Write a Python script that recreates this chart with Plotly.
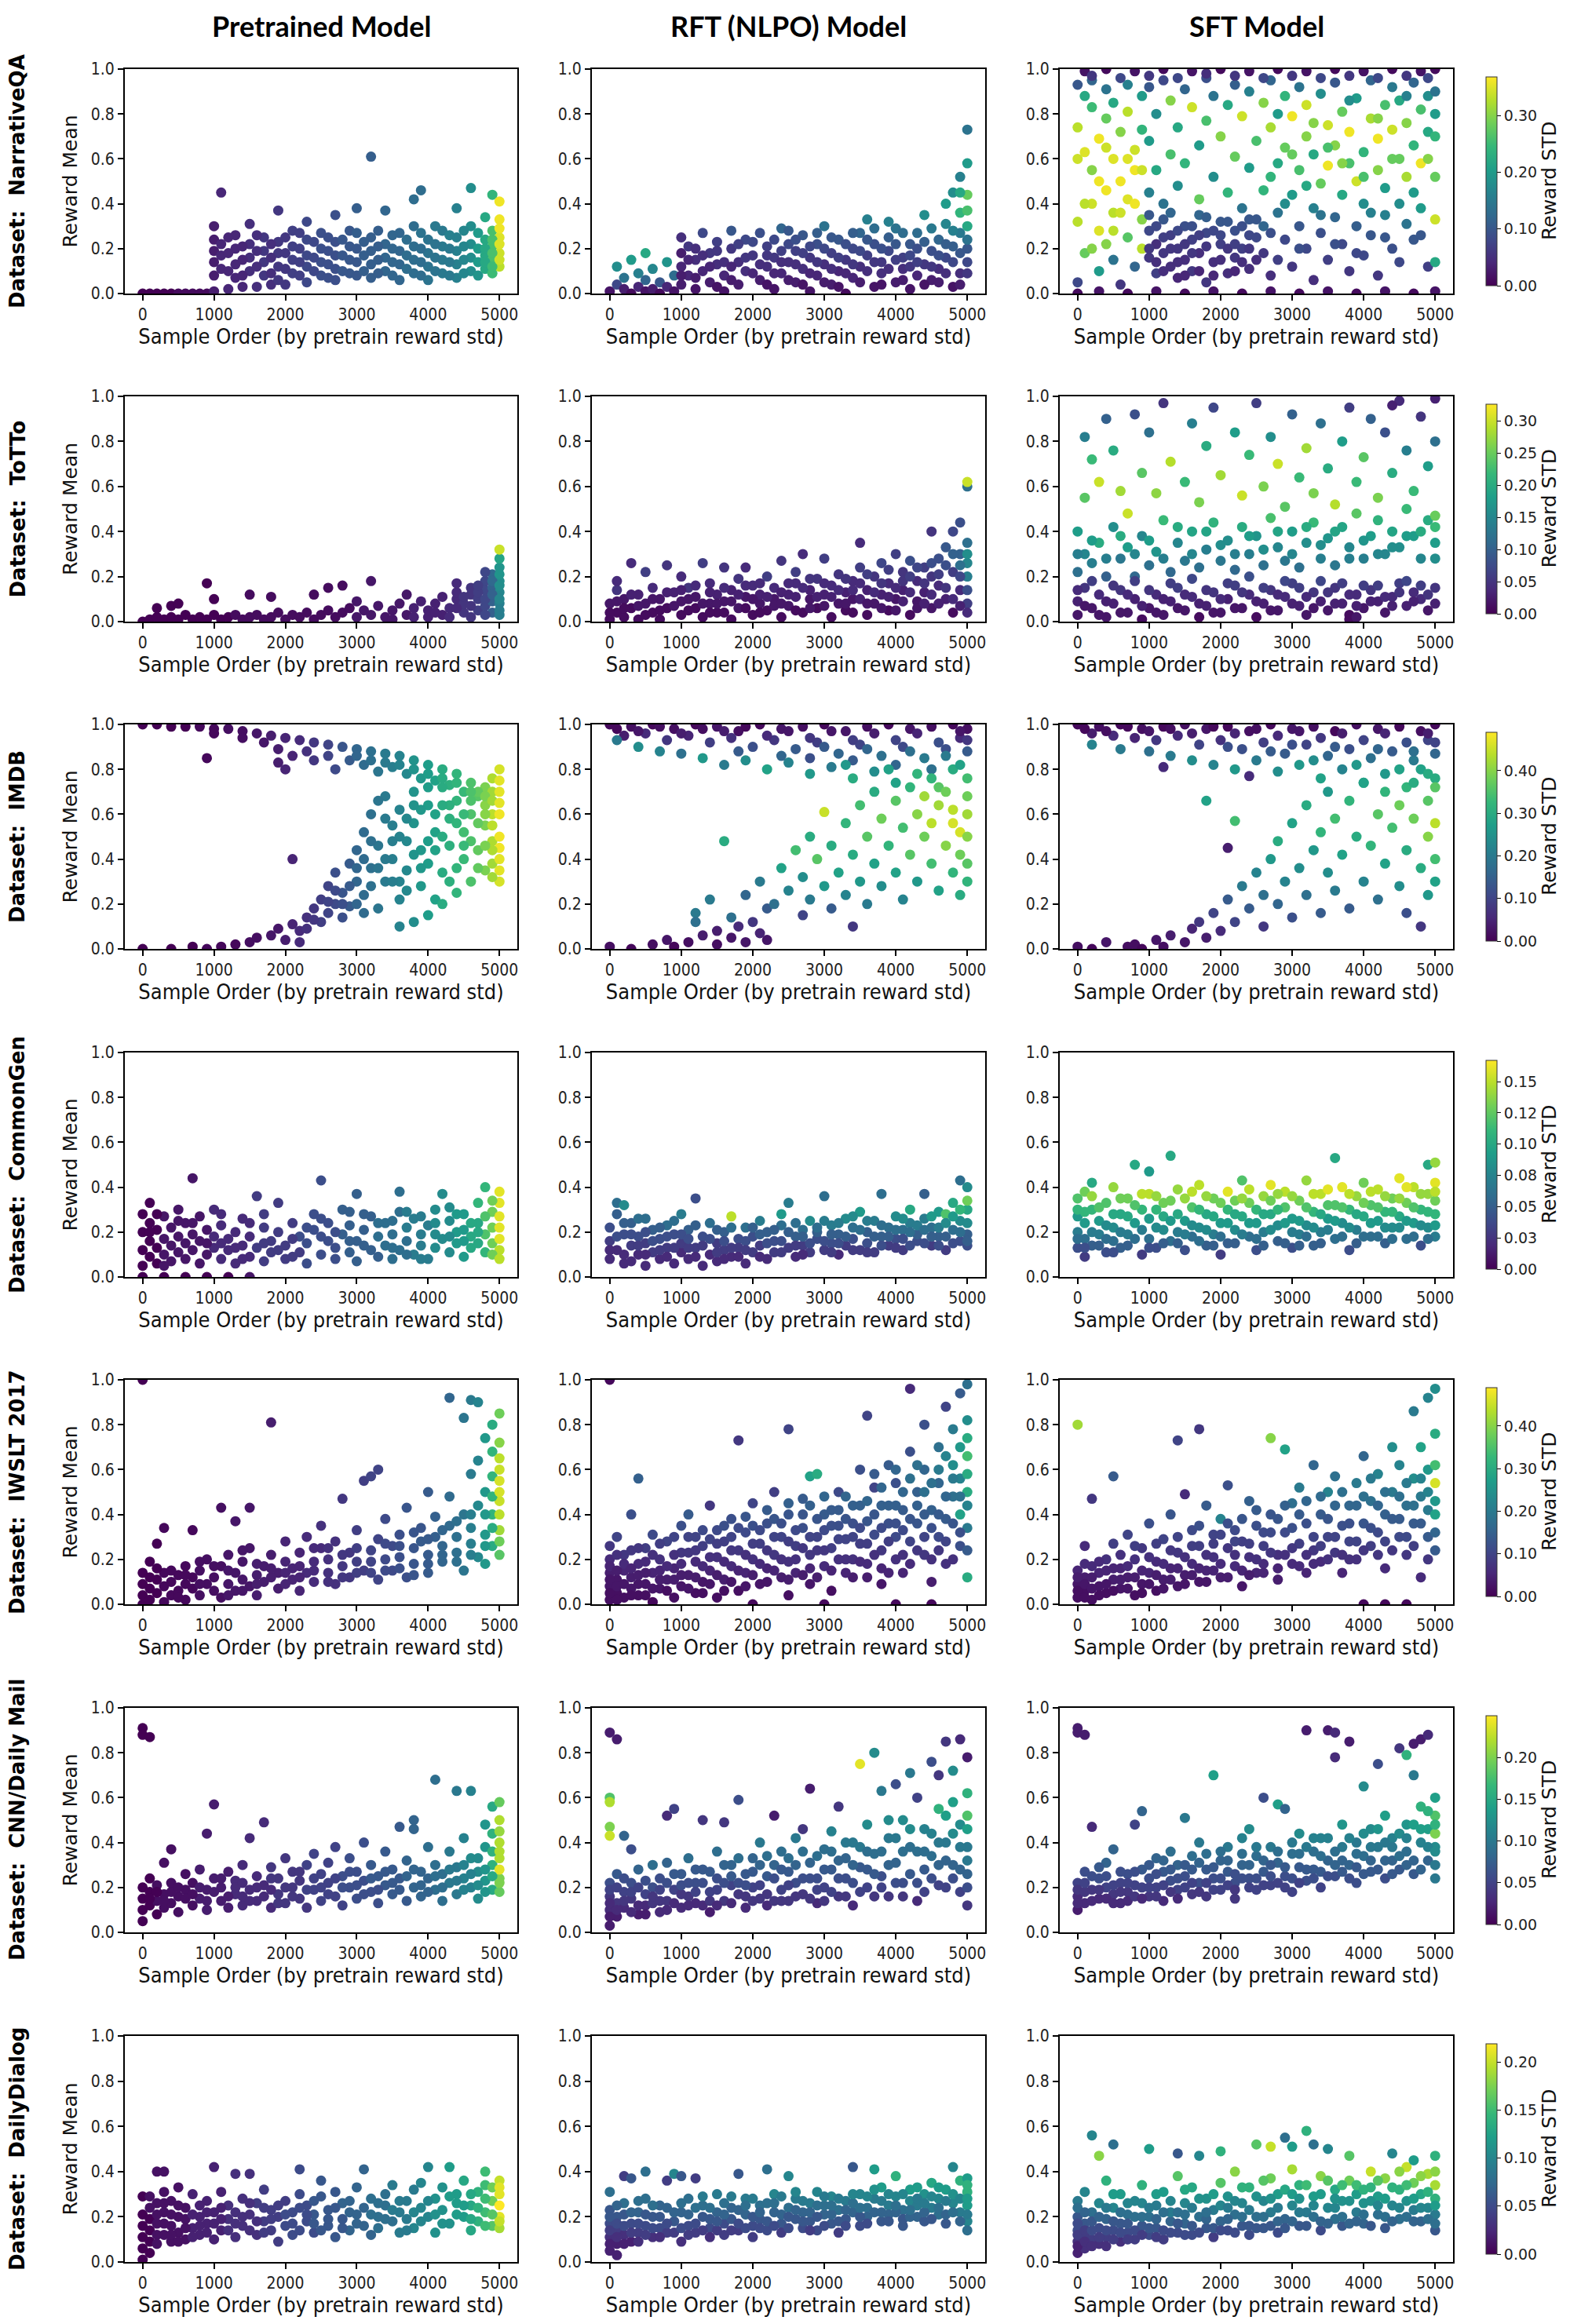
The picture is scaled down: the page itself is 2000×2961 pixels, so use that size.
import plotly.graph_objects as go
from plotly.subplots import make_subplots

# Each point: (sample order / 100, reward mean * 100, reward std * 100).

# ---- NarrativeQA ----
nqa_pre = [(0,0,0),(1,0,0),(2,0,0),(3,0,0),(4,0,0),(5,0,1),(6,0,1),(7,0,1),(8,0,1),(9,0,1),
    (10,1,3),(12,2,4),(14,3,4),(16,3,5),(18,4,5),(20,4,6),
    (10,8,3),(10,14,3),(10,19,3),(10,24,3),(10,30,3),(11,11,4),(11,17,4),(11,22,4),(11,45,4),
    (13,7,4),(13,13,4),(13,20,4),(13,26,4),(15,10,5),(15,16,5),(15,22,5),(15,31,5),
    (17,8,6),(17,14,6),(17,19,6),(17,25,6),(19,6,6),(19,12,6),(19,18,6),(19,23,6),(19,37,6),
    (21,9,7),(21,15,7),(21,21,7),(21,28,7),(23,5,8),(23,12,8),(23,17,8),(23,24,8),(23,32,8),
    (25,8,9),(25,14,9),(25,20,9),(25,27,9),(27,6,9),(27,11,9),(27,17,9),(27,23,9),(27,35,9),
    (29,9,10),(29,15,10),(29,21,10),(29,28,10),(30,38,11),(32,61,11),(32,7,11),(32,13,11),(32,19,11),(32,25,11),
    (34,10,12),(34,16,12),(34,22,12),(34,37,12),(36,6,12),(36,13,12),(36,19,12),(36,27,12),
    (38,9,13),(38,15,13),(38,21,13),(38,30,13),(38,42,13),(39,46,13),(40,6,14),(40,12,14),(40,18,14),(40,24,14),
    (42,9,15),(42,15,15),(42,21,15),(42,28,15),(44,7,16),(44,13,16),(44,19,16),(44,25,16),(44,38,16),
    (46,10,18),(46,16,18),(46,22,18),(46,30,18),(46,47,18),(47,8,19),(47,14,20),(47,20,20),(47,27,20),
    (48,11,22),(48,17,22),(48,24,22),(48,34,22),(49,9,25),(49,15,26),(49,21,26),(49,28,26),(49,44,24),
    (50,12,33),(50,18,34),(50,25,35),(50,33,36),(50,41,36),
    (12,10,4),(12,18,4),(12,25,4),(14,8,4),(14,15,4),(14,21,4),(16,12,5),(16,19,5),(16,26,5),(18,9,5),
    (18,16,5),(18,22,5),(20,11,6),(20,18,6),(20,25,6),(22,8,7),(22,14,7),(22,20,7),(22,27,7),(24,10,8),
    (24,16,8),(24,23,8),(26,7,9),(26,13,9),(26,19,9),(26,25,9),(28,10,10),(28,17,10),(28,24,10),(30,8,10),
    (30,14,10),(30,20,10),(30,27,11),(31,10,11),(31,17,11),(31,23,11),(33,9,11),(33,15,11),(33,21,11),
    (33,28,11),(35,8,12),(35,14,12),(35,20,12),(35,26,12),(37,11,13),(37,17,13),(37,24,13),(39,8,13),
    (39,14,13),(39,20,13),(39,27,14),(41,10,14),(41,16,14),(41,22,14),(41,30,15),(43,8,15),(43,14,15),
    (43,20,15),(43,26,16),(45,9,17),(45,15,17),(45,21,17),(45,28,17),(48,14,22),(48,20,22),(49,12,25),
    (49,18,26),(49,24,26),(50,15,34),(50,22,35),(50,29,36)]
nqa_rft = [(0,1,2),(1,4,8),(1,12,18),(2,2,3),(2,7,14),(3,0,1),(3,15,20),(4,3,4),(4,9,16),(5,1,2),
    (5,6,12),(5,18,22),(6,2,3),(6,11,17),(7,0,1),(7,5,10),(8,3,4),(8,14,19),(9,1,2),(9,8,13),
    (10,4,3),(10,12,4),(10,18,3),(10,25,5),(11,8,4),(11,21,6),(12,2,2),(12,15,5),(13,10,4),(13,27,8),
    (14,5,3),(14,18,6),(15,13,5),(15,23,7),(16,1,2),(16,8,4),(17,20,6),(17,28,10),(18,14,5),(18,4,3),
    (19,10,5),(19,24,8),(20,17,6),(21,6,3),(21,27,9),(22,12,5),(22,21,7),(23,2,2),(23,16,6),(24,9,4),
    (24,29,12),(25,22,8),(25,14,5),(26,5,3),(26,19,7),(27,11,5),(27,26,10),(28,16,6),(28,1,2),(29,8,4),
    (29,22,9),(30,13,5),(30,30,14),(31,18,7),(31,4,3),(32,24,10),(32,10,4),(33,15,6),(33,0,1),(34,20,8),
    (34,7,4),(35,27,12),(35,12,5),(36,17,7),(36,33,16),(37,3,2),(37,22,9),(38,9,5),(38,14,6),(39,25,11),
    (39,19,8),(40,5,3),(40,29,14),(41,11,5),(41,16,7),(42,22,10),(42,2,2),(43,8,4),(43,27,13),(44,13,6),
    (44,35,18),(45,19,9),(45,6,3),(46,24,12),(46,11,5),(47,16,8),(47,31,17),(47,40,20),(48,3,2),(48,21,11),
    (48,45,18),(49,9,5),(49,27,15),(49,52,16),(49,36,24),(50,14,8),(50,58,20),(50,73,14),(50,44,28),
    (50,30,22),(50,20,10),
    (10,8,3),(11,15,4),(12,20,5),(12,7,3),(13,17,5),(14,12,4),(15,3,2),(15,19,6),(16,14,5),(17,6,3),
    (17,12,4),(18,22,7),(19,16,6),(20,9,4),(20,23,8),(21,13,5),(22,4,2),(22,17,6),(23,9,4),(23,24,8),
    (24,14,5),(24,19,7),(25,6,3),(25,28,10),(26,13,5),(26,24,9),(27,4,2),(27,18,7),(28,9,4),(28,21,8),
    (29,14,6),(29,27,11),(30,5,3),(30,20,8),(31,11,5),(31,25,10),(32,16,7),(32,3,2),(33,9,4),(33,22,9),
    (34,13,6),(34,27,11),(35,5,3),(35,19,8),(36,10,5),(36,24,10),(37,14,6),(37,29,13),(38,4,2),(38,20,9),
    (39,11,5),(39,32,16),(40,15,7),(40,22,10),(41,6,3),(41,27,13),(42,12,6),(42,17,8),(43,20,9),(43,14,7),
    (44,4,2),(44,23,11),(45,12,6),(45,29,15),(46,17,9),(46,5,3),(47,22,11),(47,9,5),(48,14,8),(48,28,16),
    (49,18,10),(49,4,3),(50,24,14),(50,9,6),(50,37,26),(49,45,22)]
nqa_sft = [(1,99,2),(4,100,1),(8,99,2),(12,100,1),(16,99,2),(20,100,1),(24,99,2),(28,100,1),(32,99,2),
    (36,100,1),(40,99,2),(44,100,1),(48,99,2),(50,100,1),(0,0,1),(3,1,2),(7,0,1),(11,1,2),(15,0,1),
    (19,1,2),(23,0,1),(27,1,2),(31,0,1),(35,1,2),(39,0,1),(43,1,2),(47,0,1),(50,1,2),
    (0,93,10),(1,88,22),(0,74,33),(1,63,35),(0,32,33),(1,18,28),(0,5,8),(2,95,12),(2,83,25),(2,55,30),
    (2,40,34),(3,69,36),(3,28,35),(3,10,20),(4,91,14),(4,78,28),(4,46,36),(4,22,30),(5,60,35),(5,36,33),
    (5,85,22),(5,15,14),(6,72,30),(6,50,36),(6,4,6),(7,93,16),(7,81,33),(7,42,35),(7,25,27),(8,64,34),
    (8,12,12),(8,55,36),(9,88,20),(9,33,30),(9,73,24),(9,20,33),
    (10,28,8),(10,16,6),(10,45,16),(10,68,20),(10,92,10),(11,22,5),(11,9,7),(11,55,22),(11,80,18),
    (12,33,10),(12,18,6),(12,40,14),(12,95,8),(13,12,5),(13,26,7),(13,62,26),(13,86,30),(14,20,6),
    (14,7,4),(14,48,18),(14,74,22),(15,30,9),(15,15,5),(15,91,12),(15,58,24),(16,24,7),(16,10,6),
    (16,83,34),(17,18,5),(17,35,12),(17,66,20),(17,42,28),(18,27,8),(18,5,6),(18,77,26),(18,96,9),
    (19,14,5),(19,52,18),(19,88,14),(20,22,7),(20,32,10),(20,70,30),(21,9,5),(21,45,24),(21,84,22),
    (22,28,9),(22,16,6),(22,61,28),(22,93,11),(23,20,7),(23,38,14),(23,79,34),(24,11,5),(24,26,8),
    (24,56,20),(24,90,16),(25,33,10),(25,68,26),
    (26,18,6),(26,46,24),(26,85,30),(27,8,5),(27,27,9),(27,74,32),(27,95,12),(28,36,14),(28,58,22),
    (28,15,7),(29,24,8),(29,65,28),(29,88,24),(30,12,6),(30,44,20),(30,79,36),(31,30,10),(31,55,26),
    (31,92,14),(32,20,8),(32,70,30),(32,84,34),(33,6,5),(33,38,16),(33,62,22),(34,27,9),(34,49,28),
    (34,89,18),(35,15,7),(35,75,34),(35,57,36),(36,34,12),(36,66,30),(36,94,10),(37,22,8),(37,44,22),
    (37,81,28),(38,10,6),(38,58,26),(38,72,36),(39,30,11),(39,87,20),(39,50,34),(40,17,8),(40,63,24),
    (40,40,18),(41,26,10),(41,78,32),(41,95,12),(42,8,6),(42,55,30),(42,69,36),(43,35,16),(43,84,26),
    (43,47,20),(44,20,9),(44,73,34),(44,92,15),(45,14,8),(45,60,28),(45,86,22),(46,31,14),(46,52,32),
    (46,76,30),(47,24,10),(47,66,24),(47,94,12),(48,38,20),(48,82,26),(48,58,36),(49,12,7),(49,72,22),
    (49,88,18),(50,33,34),(50,52,28),(50,70,24),(50,90,14),(50,14,22),
    (10,20,6),(10,35,10),(11,30,8),(11,14,5),(12,25,7),(12,10,5),(13,20,6),(13,36,12),(14,28,8),(14,14,5),
    (15,22,6),(15,8,4),(16,30,9),(16,18,6),(17,26,7),(17,10,4),(18,21,6),(18,34,11),(19,28,8),(19,8,4),
    (20,15,5),(20,26,8),(21,20,6),(21,32,10),(22,10,4),(22,22,7),(23,30,9),(23,14,5),(24,20,6),(24,33,10),
    (25,15,5),(25,25,8),(2,97,6),(6,96,8),(10,97,6),(14,96,8),(18,98,5),(22,97,6),(26,96,8),(30,97,6),
    (34,96,8),(38,97,6),(42,96,8),(46,97,6),(49,96,8),(26,30,12),(27,52,24),(28,80,20),(29,40,18),
    (30,62,28),(31,20,9),(32,48,22),(33,76,30),(34,35,14),(35,65,26),(36,22,9),(37,58,30),(38,86,18),
    (39,18,8),(40,52,26),(41,36,16),(42,78,30),(43,25,10),(44,60,28),(45,40,18),(46,88,16),(47,45,20),
    (48,26,10),(49,60,30),(50,80,20),(0,60,34),(1,40,33),(2,20,30),(3,50,36),(4,65,34),(5,28,33),
    (6,36,34),(7,60,35),(8,40,36),(9,55,34)]

# ---- ToTTo ----
tot_pre = [(0,0,0),(1,1,0),(2,2,0),(3,1,0),(4,2,0),(5,1,0),(6,3,0),(7,1,0),(8,2,0),(9,1,0),(10,3,0),
    (11,1,0),(12,2,0),(13,3,1),(14,1,1),(15,2,1),(16,3,1),(17,1,1),(18,2,1),(19,4,1),(20,1,1),(21,3,1),
    (22,2,1),(23,4,1),(24,1,1),(25,3,1),(26,5,1),(27,2,1),(28,4,1),(29,6,1),(30,2,2),(31,5,2),(32,3,2),
    (33,7,2),(34,2,2),(35,5,2),(36,8,2),(37,3,2),(38,6,3),(39,9,3),(40,2,3),(40,5,3),(41,8,3),(42,11,3),
    (42,3,3),(43,6,4),(44,10,4),(44,13,4),(45,4,5),(45,8,5),(46,12,5),(46,15,5),(47,5,6),(47,10,6),
    (48,7,7),(48,14,7),(48,18,7),(49,4,10),(49,9,10),(49,15,10),(49,21,11),(50,3,14),(50,8,14),
    (50,13,15),(50,18,16),(50,24,17),(50,28,19),(50,32,30),
    (2,6,0),(4,7,0),(5,8,0),(9,17,0),(10,10,0),(15,12,1),(18,11,1),(24,12,1),(26,15,1),(28,16,1),
    (32,18,2),(44,17,4),(48,22,7),(37,12,2),(30,9,2),
    (35,1,2),(38,2,3),(41,4,3),(43,2,4),(44,6,4),(45,11,5),(46,7,5),(47,13,6),(47,16,6),(48,10,7),
    (49,12,10),(49,18,11),(50,10,15),(50,16,16),(50,21,17),(46,2,5),(48,3,7),(50,5,14)]
tot_rft = [(0,1,1),(0,8,2),(1,4,1),(1,14,5),(1,18,4),(2,2,1),(2,10,2),(3,6,1),(3,26,4),(4,12,3),(4,1,1),
    (5,8,2),(5,22,6),(6,4,1),(6,15,4),(7,10,2),(7,1,1),(8,6,1),(8,25,5),(9,13,3),(10,3,1),(10,9,2),
    (10,20,4),(11,15,5),(12,6,1),(12,11,2),(13,2,1),(13,26,6),(14,8,2),(14,17,4),(15,12,3),(15,4,1),
    (16,24,5),(16,9,2),(17,1,1),(17,14,3),(18,6,2),(18,19,5),(19,11,2),(19,24,4),(20,3,1),(20,16,4),
    (21,8,2),(21,12,3),(22,20,6),(22,5,1),(23,10,2),(23,15,4),(24,2,1),(24,27,5),(25,12,3),(25,7,2),
    (26,17,4),(26,22,6),(27,4,1),(27,30,4),(28,10,2),(28,14,3),(29,19,5),(29,6,1),(30,12,3),(30,28,6),
    (31,2,1),(31,16,4),(32,8,2),(32,21,5),(33,13,3),(33,5,1),(34,18,4),(34,10,2),(35,24,6),(35,35,4),
    (36,14,3),(36,3,1),(37,8,2),(37,20,5),(38,26,7),(38,12,3),(39,5,1),(39,17,4),(40,10,2),(40,30,6),
    (41,22,5),(41,14,3),(42,3,1),(42,27,8),(43,9,2),(43,18,4),(44,24,6),(44,13,3),(45,40,5),(45,6,2),
    (45,20,5),(46,28,8),(46,16,4),(47,10,3),(47,33,9),(48,22,6),(48,40,7),(48,4,1),(49,14,4),(49,30,10),
    (49,44,8),(50,8,6),(50,20,14),(50,26,15),(50,35,12),(50,60,12),(50,62,30),
    (0,4,1),(1,9,2),(2,6,1),(3,12,3),(4,7,2),(5,3,1),(6,10,2),(7,5,1),(8,13,3),(9,7,2),(10,14,3),(11,5,1),
    (11,10,2),(12,16,4),(13,8,2),(14,4,1),(14,13,3),(15,8,2),(16,4,1),(16,15,4),(17,9,2),(18,12,3),(19,6,1),
    (19,16,4),(20,10,2),(21,4,1),(21,17,4),(22,11,3),(23,7,2),(24,13,3),(24,8,2),(25,17,4),(26,5,1),
    (26,11,3),(27,15,4),(28,6,2),(28,19,5),(29,11,3),(30,7,2),(30,17,4),(31,11,3),(32,14,4),(33,8,2),
    (33,19,5),(34,4,1),(34,14,4),(35,10,3),(35,17,4),(36,8,2),(36,21,6),(37,13,4),(38,6,2),(38,17,5),
    (39,11,3),(39,23,6),(40,15,4),(40,5,2),(41,9,3),(41,18,5),(42,13,4),(42,20,6),(43,6,2),(43,24,7),
    (44,8,3),(44,17,5),(45,12,4),(45,26,8),(46,8,3),(46,21,6),(47,15,5),(47,25,8),(48,10,4),(48,30,10),
    (49,7,3),(49,20,7),(49,25,12),(50,14,8),(50,30,16),(50,4,4)]
tot_sft = [(0,3,2),(0,9,3),(1,15,5),(2,6,2),(3,12,4),(4,2,2),(5,8,3),(6,14,5),(7,4,2),(8,10,3),(9,1,1),
    (10,6,2),(11,12,4),(12,3,2),(13,9,3),(14,15,6),(15,5,2),(16,11,4),(17,2,1),(18,7,3),(19,13,5),
    (20,4,2),(21,10,3),(22,16,6),(23,6,2),(24,12,4),(25,2,1),(26,8,3),(27,14,5),(28,5,2),(29,11,4),
    (30,17,6),(31,7,3),(32,3,2),(33,13,5),(34,9,3),(35,5,2),(36,15,5),(37,8,3),(38,3,1),(39,12,4),
    (40,6,2),(41,14,5),(42,9,3),(43,4,2),(44,11,4),(45,17,6),(46,7,3),(47,13,4),(48,10,4),(49,5,2),
    (50,15,5),(38,1,1),(39,2,2),
    (0,22,12),(1,30,15),(0,40,18),(2,26,14),(3,35,20),(4,20,10),(5,42,16),(6,28,13),(7,33,18),(8,20,11),
    (9,38,15),(10,25,12),(11,31,17),(12,45,22),(13,22,11),(14,35,15),(15,27,13),(16,40,19),(17,24,12),
    (18,32,14),(19,44,21),(20,27,13),(21,36,16),(22,23,11),(23,42,20),(24,30,14),(25,38,17),(26,25,12),
    (27,46,23),(28,33,15),(29,27,13),(30,40,18),(31,24,12),(32,35,16),(33,44,22),(34,28,14),(35,37,17),
    (36,25,13),(37,42,19),(38,33,15),(39,48,24),(40,28,14),(41,38,18),(42,45,21),(43,30,15),(44,40,19),
    (45,33,16),(46,50,22),(47,38,18),(48,28,15),(49,45,20),(50,35,18),(50,47,25),
    (1,55,24),(2,72,22),(1,82,14),(3,62,30),(4,90,10),(5,76,20),(6,58,28),(7,48,30),(8,92,8),(9,66,24),
    (10,84,12),(11,57,27),(12,97,5),(13,71,29),(15,62,22),(16,88,14),(17,53,26),(18,78,20),(19,95,7),
    (20,65,28),(22,84,18),(23,56,30),(24,74,22),(25,97,6),(26,60,26),(27,82,16),(28,70,30),(29,51,24),
    (30,92,10),(31,64,22),(32,77,28),(33,57,26),(34,88,12),(35,68,20),(36,52,29),(37,80,18),(38,95,6),
    (39,62,22),(40,73,24),(41,90,10),(42,55,26),(43,84,8),(44,66,20),(45,98,4),(46,76,14),(47,58,22),
    (48,91,5),(49,69,18),(50,99,3),(50,80,12),(44,96,3),
    (0,14,4),(1,7,2),(2,18,6),(3,3,2),(4,9,3),(5,16,5),(6,4,2),(7,12,4),(8,18,6),(9,7,3),(10,14,5),
    (11,4,2),(12,10,3),(13,17,6),(14,6,2),(15,12,4),(16,19,7),(17,8,3),(18,14,5),(19,4,2),(20,10,4),
    (21,17,6),(22,6,2),(23,13,5),(24,20,8),(25,9,3),(26,15,6),(27,5,2),(28,12,4),(29,18,7),(30,8,3),
    (31,15,6),(32,11,4),(33,6,2),(34,18,7),(35,13,5),(36,8,3),(37,17,6),(38,12,4),(39,7,3),(40,16,6),
    (41,9,3),(42,16,6),(43,11,4),(44,7,3),(45,13,5),(46,18,7),(47,9,3),(48,16,6),(49,12,5),(50,8,3),
    (0,30,14),(2,36,18),(4,28,14),(6,38,20),(8,30,15),(10,36,18),(12,28,14),(14,42,20),(16,30,15),
    (18,40,19),(20,34,16),(22,30,14),(24,38,18),(26,32,16),(28,40,19),(30,30,15),(32,42,20),(34,34,16),
    (36,40,19),(38,28,14),(40,36,17),(42,30,15),(44,33,16),(46,38,18),(48,40,20),(50,42,22),(50,28,16)]

# ---- IMDB ----
imdb_pre = [(0,100,0),(2,100,0),(4,99,0),(6,99,0),(8,99,1),(10,98,1),(12,98,2),(14,97,2),(16,96,3),
    (18,95,4),(20,94,5),(22,93,6),(24,92,8),(26,91,10),(28,90,13),(30,89,16),(32,88,18),(34,87,20),
    (36,86,22),(38,84,25),(40,82,27),(42,80,30),(44,78,32),(46,74,35),(48,72,39),(49,70,42),
    (10,96,1),(14,94,2),(17,92,3),(19,89,4),(21,86,5),(23,88,7),(24,84,8),(26,86,10),(27,80,11),
    (29,84,14),(31,82,17),(33,79,19),(35,81,21),(37,78,23),(39,76,26),(41,75,28),(43,73,31),(45,70,33),
    (47,68,36),(9,85,1),(20,80,5),(19,83,4),(21,40,5),
    (0,0,0),(4,0,0),(7,1,0),(9,0,1),(11,1,1),(13,2,1),(15,3,2),(16,5,2),(18,6,3),(19,9,3),(20,4,4),
    (21,11,5),(22,8,6),(23,14,7),(24,18,8),(25,12,9),(25,22,9),(26,16,10),(26,28,10),(27,20,11),
    (27,34,12),(28,14,12),(28,25,13),(29,38,14),(29,19,14),(30,30,16),(30,44,16),(31,24,17),(31,52,17),
    (32,36,18),(32,60,18),(33,18,19),(33,46,19),(34,30,20),(34,68,20),(35,40,21),(35,55,21),(36,22,22),
    (36,62,22),(37,48,23),(37,35,23),(38,70,25),(38,12,24),(38,56,25),(39,28,26),(39,44,26),(40,64,27),
    (40,38,27),(41,22,28),(41,52,28),(42,72,30),(42,34,30),(43,58,31),(43,46,31),(44,25,32),(44,66,32),
    (45,40,33),(45,52,34),(46,30,35),(46,60,35),(47,44,37),(47,70,37),(48,35,39),(48,55,39),(48,64,40),
    (49,38,42),(49,48,43),(49,60,44),(50,30,46),(50,40,47),(50,50,48),(50,60,48),(50,70,47),(50,80,46),
    (49,76,43),(40,15,27),(42,20,30),(36,10,22),
    (30,86,16),(32,84,18),(34,83,20),(36,82,22),(38,80,25),(40,78,27),(42,76,30),(44,74,32),(46,70,35),
    (48,68,39),(49,66,42),(50,65,47),(50,75,47),(50,45,48),(50,35,47),(49,55,44),(49,44,43),(49,32,42),
    (48,46,39),(48,60,40),(47,56,37),(47,36,37),(46,48,35),(46,66,35),(45,60,33),(45,46,33),(44,56,32),
    (44,36,32),(43,64,31),(43,30,31),(42,50,30),(42,64,30),(41,60,28),(41,44,28),(40,72,27),(40,48,27),
    (39,62,26),(39,36,26),(38,42,25),(38,64,25),(37,58,23),(37,26,23),(36,50,22),(36,30,22),(35,48,21),
    (35,30,21),(34,58,20),(34,40,20),(33,36,19),(33,66,19),(32,28,18),(32,48,18),(31,40,17),(31,16,17),
    (30,20,16),(30,36,16),(29,28,14),(28,20,12),(27,26,11),(26,21,10),(24,13,8),(22,3,6),(23,9,7)]
imdb_rft = [(0,100,1),(3,99,2),(6,100,1),(9,98,2),(12,100,1),(15,99,3),(18,97,2),(21,100,1),(24,98,3),
    (27,99,2),(30,100,1),(33,97,3),(36,99,2),(39,100,1),(42,98,3),(45,99,2),(48,100,1),(50,98,2),
    (2,95,4),(5,96,6),(8,93,8),(11,95,5),(14,92,9),(17,94,7),(20,90,12),(23,93,8),(26,89,14),(29,92,9),
    (32,87,16),(35,91,10),(38,86,18),(41,90,11),(44,85,20),(47,89,12),(50,88,14),(49,94,6),
    (1,93,20),(4,90,24),(7,88,22),(10,87,18),(13,85,26),(16,82,20),(19,84,24),(22,80,28),(25,83,22),
    (28,78,26),(31,81,20),(34,76,30),(37,79,24),(40,74,28),(43,78,32),(46,72,36),(48,80,30),(50,76,34),
    (28,85,12),(34,84,14),(40,82,16),(45,80,18),
    (0,1,2),(3,0,1),(6,2,2),(8,4,3),(9,1,1),(11,3,2),(13,6,4),(15,2,2),(15,8,4),(17,5,3),(18,10,6),
    (19,3,3),(20,12,8),(21,7,5),(22,18,14),(22,4,3),(12,16,20),(12,12,18),
    (16,48,30),(14,22,20),(17,14,18),(19,24,16),(21,30,20),(23,20,18),(24,36,28),(25,26,22),(26,44,34),
    (27,15,10),(27,32,24),(28,50,30),(28,22,20),(29,40,36),(30,61,45),(30,28,26),(31,18,14),(31,46,30),
    (32,34,28),(33,56,32),(33,24,22),(34,42,30),(34,10,8),(35,64,34),(35,30,26),(36,50,36),(36,20,20),
    (37,38,28),(37,70,30),(38,58,38),(38,28,24),(39,46,32),(40,66,36),(40,34,28),(41,22,22),(41,54,34),
    (42,72,32),(42,42,36),(43,30,26),(43,60,40),(44,50,38),(44,68,42),(45,38,34),(45,56,44),(46,26,28),
    (46,64,42),(47,46,40),(47,70,38),(48,34,32),(48,56,46),(48,62,44),(49,42,38),(49,52,46),(49,24,30),
    (50,38,36),(50,50,40),(50,60,42),(50,68,38),(50,30,32),
    (1,98,1),(4,97,3),(7,99,2),(10,96,4),(13,98,2),(16,97,4),(19,99,1),(22,95,6),(25,97,3),(28,94,8),
    (31,97,3),(34,93,9),(37,96,4),(40,93,10),(43,96,5),(46,92,12),(49,97,3),(50,93,8),(30,90,14),
    (36,89,16),(42,88,18),(47,86,20),(33,82,26),(39,80,28),(45,76,32),(49,82,28),(24,86,16),(18,88,14)]
imdb_sft = [(0,100,1),(3,99,2),(6,100,1),(9,98,2),(12,99,1),(15,100,2),(18,98,3),(21,99,1),(24,97,2),
    (27,100,1),(30,98,3),(33,99,2),(36,97,1),(39,100,2),(42,98,3),(45,99,1),(48,97,2),(50,100,1),
    (2,96,4),(5,95,6),(8,94,5),(11,93,8),(14,95,6),(17,91,10),(20,93,7),(23,89,12),(26,92,9),(29,87,14),
    (32,91,10),(35,86,16),(38,89,12),(41,85,18),(44,88,14),(47,84,20),(50,87,16),(49,93,10),
    (2,91,22),(6,89,20),(10,88,18),(13,86,20),(16,84,24),(19,82,22),(22,80,26),(25,84,20),(28,79,24),
    (31,82,26),(34,76,28),(37,80,22),(40,74,30),(43,78,26),(46,72,32),(48,80,28),(50,76,30),(12,81,6),
    (24,77,6),
    (0,1,2),(2,0,1),(4,3,3),(7,1,2),(8,2,2),(9,0,1),(11,4,3),(12,1,2),(13,6,4),(15,3,3),(16,9,5),
    (17,12,8),(18,5,4),(19,16,10),(20,8,6),(21,45,4),(21,22,14),(22,57,34),(18,66,28),(22,12,10),
    (23,28,20),(24,18,14),(25,34,22),(26,10,8),(26,24,18),(27,40,26),(28,20,16),(28,48,30),(29,30,22),
    (30,14,12),(30,56,28),(31,36,24),(32,24,18),(32,64,30),(33,44,26),(34,16,14),(34,52,32),(35,34,24),
    (35,70,26),(36,26,20),(36,58,34),(37,42,28),(38,18,14),(38,66,32),(39,50,30),(40,30,22),(40,74,28),
    (41,46,32),(42,22,18),(42,60,36),(43,38,28),(43,70,32),(44,54,34),(45,28,24),(45,64,38),(46,44,30),
    (46,16,12),(47,58,38),(47,74,30),(48,36,30),(48,10,8),(49,50,40),(49,66,36),(49,24,26),(50,40,34),
    (50,56,44),(50,72,36),(50,30,28),
    (1,98,1),(4,97,2),(7,99,1),(10,97,3),(13,98,2),(16,96,4),(19,99,1),(22,96,5),(25,98,2),(28,95,6),
    (31,97,3),(34,94,8),(37,96,4),(40,93,10),(43,96,5),(46,92,12),(49,96,4),(50,92,10),(30,91,12),
    (36,90,14),(42,89,16),(47,88,18),(33,84,24),(39,82,26),(45,80,28),(49,78,30),(27,88,14),(21,90,12)]

# ---- CommonGen ----
cg_pre = [(0,0,0),(3,0,0),(6,0,0),(9,0,0),(12,0,0),(15,0,1),
    (0,5,0),(0,12,0),(0,20,0),(0,28,0),(1,9,0),(1,16,0),(1,24,0),(1,33,0),(2,6,0),(2,13,0),(2,21,0),
    (3,10,1),(3,17,1),(3,27,1),(4,7,1),(4,14,1),(4,22,1),(5,11,1),(5,18,1),(5,30,1),(6,8,1),(6,15,1),
    (6,24,1),(7,12,1),(7,19,1),(7,44,1),(8,6,1),(8,16,1),(8,27,1),(9,10,1),(9,21,1),(10,13,2),(10,18,2),
    (10,30,2),(11,8,2),(11,23,2),(12,12,2),(12,17,2),(13,6,2),(13,20,2),(14,14,2),(14,26,2),(15,9,2),
    (15,18,2),(16,13,3),(16,36,3),(17,7,3),(17,22,3),(18,16,3),(18,11,3),(19,20,3),(19,33,3),(20,8,3),
    (20,14,3),(21,24,3),(22,11,3),(22,18,4),(23,6,4),(23,15,4),(24,21,4),(24,28,4),(25,10,4),(25,43,4),
    (26,16,4),(26,24,4),(27,8,4),(27,13,4),(28,19,5),(28,30,5),(29,11,5),(29,23,5),(30,7,5),(30,16,5),
    (30,37,5),(31,21,5),(32,12,5),(32,27,5),(33,9,5),(33,18,6),(34,14,6),(34,24,6),(35,8,6),(35,19,6),
    (36,12,6),(36,29,6),(36,38,6),(37,16,6),(37,22,7),(38,10,7),(38,26,7),(39,14,7),(39,19,7),(40,8,7),
    (40,23,7),(41,13,8),(41,30,8),(42,17,8),(42,37,8),(43,11,8),(43,25,8),(44,15,9),(44,20,9),(45,9,9),
    (45,28,9),(46,13,10),(46,18,10),(47,24,10),(47,33,11),(48,11,11),(48,19,12),(48,40,11),(49,15,13),
    (49,22,13),(49,29,13),(50,12,15),(50,17,16),(50,22,16),(50,27,16),(50,33,16),(50,38,16),
    (1,20,0),(2,28,0),(3,5,1),(5,25,1),(7,24,1),(9,15,1),(11,15,2),(11,28,2),(13,13,2),(14,8,2),
    (15,24,2),(17,15,3),(17,28,3),(19,12,3),(21,9,3),(21,17,3),(23,22,4),(25,18,4),(25,26,4),(27,20,4),
    (29,16,5),(29,29,5),(31,14,5),(31,28,5),(33,24,6),(35,13,6),(35,25,6),(37,10,6),(37,29,7),(39,8,7),
    (39,27,7),(41,19,8),(41,24,8),(43,18,8),(43,31,8),(45,16,9),(45,21,9),(47,15,10),(47,20,10),
    (49,10,13),(49,34,13),(50,8,15),(48,27,12),(46,24,10),(44,28,9)]
cg_rft = [(0,8,2),(0,16,3),(0,22,4),(1,12,2),(1,28,5),(1,33,6),(2,6,2),(2,19,4),(2,32,8),(3,14,3),
    (3,24,5),(4,10,2),(4,18,4),(5,5,2),(5,15,3),(5,26,6),(6,11,3),(6,21,5),(7,8,2),(7,17,4),(8,13,3),
    (8,23,6),(9,6,2),(9,19,4),(10,11,2),(10,15,3),(10,28,7),(11,8,2),(11,21,5),(12,13,3),(12,35,4),
    (13,5,2),(13,18,4),(14,10,2),(14,24,6),(15,15,3),(15,7,2),(16,20,5),(16,12,3),(17,27,15),(17,9,2),
    (18,17,4),(18,13,3),(19,22,6),(19,6,2),(20,11,3),(20,18,4),(21,25,7),(21,14,3),(22,8,2),(22,20,5),
    (23,16,4),(23,11,3),(24,23,6),(24,28,9),(25,13,3),(25,33,7),(26,18,5),(26,9,2),(27,21,6),(27,14,3),
    (28,11,3),(28,25,8),(29,17,4),(29,20,5),(30,12,3),(30,36,6),(31,23,7),(31,15,4),(32,10,2),(32,19,5),
    (33,26,8),(33,14,3),(34,17,4),(34,22,6),(35,12,3),(35,29,9),(36,20,5),(36,15,4),(37,25,7),(37,11,3),
    (38,18,5),(38,37,6),(39,22,6),(39,14,3),(40,27,8),(40,17,4),(41,12,3),(41,21,6),(42,24,7),(42,30,10),
    (43,16,4),(43,19,5),(44,26,7),(44,37,5),(45,14,3),(45,22,6),(46,29,9),(46,18,5),(47,28,12),(47,12,3),
    (48,21,6),(48,33,10),(49,25,8),(49,43,6),(49,16,4),(50,19,5),(50,30,10),(50,40,8),(50,14,4),
    (0,12,2),(1,18,4),(2,10,2),(2,24,5),(3,7,2),(3,19,4),(4,14,3),(4,26,6),(5,10,2),(5,20,4),(6,16,4),
    (7,12,3),(7,22,5),(8,9,2),(8,18,4),(9,13,3),(9,25,6),(10,19,4),(11,13,3),(11,17,4),(12,9,2),(12,23,5),
    (13,14,3),(14,17,4),(15,11,3),(15,21,5),(16,8,2),(16,16,4),(17,13,3),(17,22,6),(18,9,2),(19,16,4),
    (19,12,3),(20,22,5),(21,9,2),(21,19,5),(22,15,4),(23,21,5),(24,11,3),(24,16,4),(25,20,5),(26,14,3),
    (26,24,6),(27,10,2),(27,18,5),(28,15,4),(29,22,6),(30,16,4),(30,25,7),(31,11,3),(31,19,5),(32,15,4),
    (32,24,7),(33,18,5),(34,12,3),(34,27,8),(35,21,6),(36,11,3),(36,25,7),(37,18,5),(38,14,4),(38,23,6),
    (39,18,5),(40,13,3),(40,21,6),(41,17,4),(41,26,8),(42,14,4),(42,20,6),(43,23,7),(44,15,4),(44,21,6),
    (45,18,5),(45,27,9),(46,14,4),(46,22,7),(47,18,5),(47,24,8),(48,15,4),(48,27,9),(49,20,6),(49,30,11),
    (50,16,5),(50,24,8),(50,34,13)]
cg_sft = [(0,13,4),(0,20,7),(0,27,9),(0,35,12),(1,9,3),(1,17,6),(1,24,9),(1,38,13),(2,14,5),(2,30,11),
    (2,42,10),(3,19,7),(3,25,9),(4,11,4),(4,33,12),(5,16,6),(5,22,8),(5,40,14),(6,28,10),(6,13,5),
    (7,19,7),(7,35,13),(8,24,9),(8,50,10),(9,10,3),(9,30,11),(10,17,6),(10,47,9),(10,37,15),(11,22,8),
    (11,13,4),(12,27,10),(12,33,13),(13,54,10),(13,16,6),(14,20,7),(14,39,14),(15,12,4),(15,25,9),
    (16,31,12),(16,18,6),(17,22,8),(17,41,15),(18,14,5),(18,28,10),(19,35,13),(19,19,7),(20,24,9),
    (20,10,3),(21,30,11),(21,38,16),(22,15,5),(22,21,8),(23,27,10),(23,43,12),(24,18,6),(24,33,13),
    (25,12,4),(25,24,9),(26,36,14),(26,20,7),(27,28,10),(27,41,16),(28,16,5),(28,23,8),(29,31,12),
    (29,38,15),(30,13,4),(30,26,9),(31,19,7),(31,34,13),(32,43,14),(32,23,8),(33,29,11),(33,14,5),
    (34,37,15),(34,20,7),(35,26,9),(35,32,12),(36,53,10),(36,17,6),(37,24,8),(37,40,16),(38,30,11),
    (38,12,4),(39,21,7),(39,36,14),(40,27,10),(40,42,13),(41,18,6),(41,32,12),(42,25,9),(42,39,15),
    (43,15,5),(43,29,11),(44,35,13),(44,22,8),(45,44,16),(45,27,10),(46,17,6),(46,33,13),(47,24,9),
    (47,40,15),(48,30,11),(48,14,4),(49,37,14),(49,50,10),(49,22,8),(50,28,11),(50,34,13),(50,51,14),
    (50,42,16),(50,18,7),
    (0,17,6),(0,30,11),(1,13,4),(1,29,11),(2,20,7),(2,36,14),(3,14,5),(3,31,12),(4,23,8),(4,17,6),
    (5,28,10),(5,11,4),(6,20,7),(6,35,13),(7,14,5),(7,27,10),(8,17,6),(8,32,12),(9,21,7),(9,37,15),
    (10,26,9),(10,13,4),(11,30,11),(11,36,14),(12,15,5),(12,21,8),(13,25,9),(13,34,13),(14,15,5),
    (14,28,10),(15,19,7),(15,35,14),(16,23,8),(16,38,15),(17,16,6),(17,30,11),(18,21,8),(18,36,14),
    (19,14,5),(19,27,10),(20,18,6),(20,33,13),(21,15,5),(21,24,9),(22,28,10),(22,34,13),(23,19,7),
    (23,35,14),(24,24,9),(24,39,15),(25,17,6),(25,30,11),(26,14,5),(26,28,10),(27,21,8),(27,34,13),
    (28,30,11),(28,37,14),(29,15,5),(29,24,9),(30,20,7),(30,36,14),(31,25,9),(31,14,5),(32,18,6),
    (32,31,12),(33,22,8),(33,37,15),(34,15,5),(34,28,10),(35,21,7),(35,39,16),(36,25,9),(36,32,12),
    (37,18,6),(37,31,12),(38,22,8),(38,37,15),(39,15,5),(39,28,10),(40,18,6),(40,33,13),(41,24,9),
    (41,38,15),(42,18,6),(42,31,12),(43,22,8),(43,36,14),(44,17,6),(44,29,11),(45,22,8),(45,35,14),
    (46,25,9),(46,40,16),(47,18,6),(47,31,12),(48,23,8),(48,37,14),(49,17,6),(49,29,11),(50,23,9),
    (50,38,15)]

# ---- IWSLT 2017 ----
iw_pre = [(0,0,0),(0,4,0),(0,9,0),(0,14,0),(0,100,0),(1,2,0),(1,7,0),(1,19,0),(2,5,0),(2,11,0),(2,27,0),
    (3,1,1),(3,8,1),(3,14,1),(3,34,1),(4,4,1),(4,10,1),(5,6,1),(5,13,1),(6,2,1),(6,9,1),(6,17,1),(7,7,1),
    (7,12,1),(7,33,1),(8,4,2),(8,15,2),(9,9,2),(9,20,2),(10,6,2),(10,12,2),(11,3,2),(11,17,2),(11,43,2),
    (12,9,3),(12,22,3),(13,6,3),(13,14,3),(13,37,3),(14,11,3),(14,19,3),(15,8,3),(15,25,3),(15,43,3),
    (16,13,4),(16,4,4),(17,17,4),(17,10,4),(18,22,4),(18,81,4),(19,7,4),(19,14,4),(20,19,5),(20,28,5),
    (21,11,5),(21,16,5),(22,23,5),(22,6,5),(23,14,6),(23,30,6),(24,19,6),(24,10,6),(25,25,6),(25,35,7),
    (26,14,7),(26,20,7),(27,9,7),(27,28,7),(28,17,8),(28,47,8),(29,23,8),(29,12,8),(30,19,9),(30,33,9),
    (31,15,9),(31,55,9),(32,24,10),(32,57,10),(33,11,10),(33,29,10),(33,60,10),(34,20,11),(34,38,11),
    (35,15,11),(35,26,11),(36,31,12),(36,21,12),(37,12,12),(37,43,13),(38,25,13),(38,18,13),(39,34,13),
    (39,28,14),(40,14,14),(40,22,14),(40,50,14),(41,30,15),(41,39,15),(42,19,16),(42,26,16),(43,35,17),
    (43,92,16),(43,48,17),(44,23,18),(44,30,18),(45,40,19),(45,83,19),(45,15,19),(46,27,21),(46,34,21),
    (46,91,20),(46,58,20),(47,21,23),(47,44,23),(47,90,22),(47,64,22),(48,31,26),(48,50,26),(48,74,26),
    (48,18,26),(49,26,30),(49,40,32),(49,57,32),(49,80,30),(49,68,32),(50,22,36),(50,33,42),(50,46,45),
    (50,55,46),(50,65,44),(50,72,40),(50,85,38),
    (1,12,0),(2,16,0),(4,15,1),(5,3,1),(6,13,1),(8,9,2),(8,19,2),(10,17,2),(12,15,3),(12,4,3),(14,6,3),
    (14,24,3),(16,18,4),(16,9,4),(18,12,4),(18,16,4),(20,9,5),(20,14,5),(22,12,5),(22,17,5),(24,15,6),
    (24,25,6),(26,25,7),(26,10,7),(28,12,8),(28,22,8),(30,14,9),(30,25,9),(32,14,10),(32,19,10),(34,15,11),
    (34,27,11),(36,16,12),(36,26,12),(38,13,13),(38,32,13),(40,18,14),(40,29,14),(42,22,16),(42,33,16),
    (44,19,18),(44,37,18),(46,22,21),(46,40,21),(48,26,26),(48,40,26),(49,34,30),(49,48,32),(50,28,38),
    (50,40,44),(50,50,46),(50,60,45)]
iw_rft = [(0,2,2),(0,8,3),(0,14,4),(0,20,6),(0,26,8),(0,100,1),(1,5,2),(1,11,3),(1,30,10),(2,3,2),
    (2,15,5),(2,22,8),(3,7,3),(3,12,4),(3,40,12),(4,4,2),(4,18,6),(4,56,15),(5,9,3),(5,25,9),(6,1,1),
    (6,14,5),(6,31,11),(7,7,3),(7,20,7),(8,11,4),(8,28,10),(9,3,2),(9,16,5),(10,8,3),(10,23,8),(10,35,12),
    (11,13,4),(11,40,14),(12,5,2),(12,19,6),(12,30,10),(13,10,3),(13,26,9),(14,15,5),(14,44,8),(15,3,2),
    (15,21,7),(15,33,11),(16,11,4),(16,28,9),(17,17,6),(17,38,12),(18,6,2),(18,24,8),(18,73,8),(19,14,5),
    (19,32,11),(20,0,1),(20,20,7),(20,45,10),(21,9,3),(21,27,9),(22,16,5),(22,36,12),(23,22,8),(23,50,9),
    (24,12,4),(24,30,10),(25,4,2),(25,19,7),(25,40,13),(25,78,10),(26,26,9),(26,14,5),(27,34,12),
    (27,47,14),(28,9,3),(28,22,8),(28,57,28),(29,30,10),(29,58,30),(30,17,6),(30,40,14),(31,25,9),
    (31,6,2),(32,35,12),(32,50,11),(33,20,7),(33,29,10),(34,12,4),(34,44,15),(35,27,9),(35,60,12),
    (36,37,13),(36,84,10),(36,18,6),(37,31,11),(37,52,10),(38,9,3),(38,24,8),(38,44,15),(39,36,12),
    (39,62,14),(40,20,7),(40,30,11),(40,54,12),(41,42,14),(41,14,5),(42,28,10),(42,68,12),(42,96,6),
    (43,36,13),(43,50,15),(44,22,8),(44,60,16),(44,80,12),(45,42,15),(45,10,4),(46,30,11),(46,70,18),
    (46,54,16),(47,38,14),(47,88,10),(47,18,7),(48,48,18),(48,78,20),(48,62,24),(49,26,12),(49,56,22),
    (49,94,14),(49,40,28),(50,12,30),(50,34,20),(50,66,34),(50,82,24),(50,98,18),(50,50,30),(30,0,1),
    (40,0,1),(45,0,1),
    (0,5,2),(0,11,3),(0,17,5),(1,2,2),(1,8,3),(1,15,4),(1,22,7),(2,9,3),(2,18,6),(3,4,2),(3,16,5),(3,24,8),
    (4,9,3),(4,13,4),(4,25,8),(5,4,2),(5,14,4),(5,19,6),(6,7,3),(6,22,7),(7,11,4),(7,15,5),(7,27,9),(8,6,2),
    (8,17,6),(9,11,4),(9,22,7),(9,30,10),(10,13,4),(10,18,6),(11,7,3),(11,23,8),(11,30,10),(12,12,4),
    (12,24,8),(13,5,2),(13,17,6),(13,33,11),(14,9,3),(14,21,7),(14,29,10),(15,13,4),(15,27,9),(16,6,2),
    (16,19,6),(16,35,12),(17,10,3),(17,24,8),(17,30,10),(18,15,5),(18,34,11),(19,8,3),(19,22,7),(19,39,13),
    (20,13,4),(20,27,9),(20,35,12),(21,18,6),(21,33,11),(22,10,3),(22,24,8),(22,42,14),(23,15,5),(23,30,10),
    (23,38,13),(24,20,7),(24,36,12),(25,11,4),(25,28,9),(25,45,15),(26,20,7),(26,33,11),(27,13,4),(27,25,8),
    (27,40,13),(28,16,5),(28,30,10),(28,44,15),(29,12,4),(29,24,8),(29,38,13),(30,24,8),(30,33,11),
    (30,48,16),(31,15,5),(31,35,12),(31,42,14),(32,20,7),(32,29,10),(32,42,14),(33,14,5),(33,38,13),
    (33,48,16),(34,20,7),(34,30,10),(34,36,12),(35,19,6),(35,34,11),(35,44,15),(36,12,4),(36,27,9),
    (36,46,16),(37,22,7),(37,40,13),(37,58,14),(38,16,5),(38,34,11),(38,52,16),(39,14,5),(39,28,9),
    (39,44,15),(40,36,12),(40,44,15),(40,60,16),(41,22,7),(41,33,11),(41,50,16),(42,18,6),(42,38,13),
    (42,56,18),(43,24,8),(43,44,15),(43,62,18),(44,30,10),(44,40,14),(44,50,18),(45,20,7),(45,34,12),
    (45,54,18),(46,24,8),(46,40,14),(46,60,20),(47,28,10),(47,48,16),(47,66,22),(48,20,7),(48,36,13),
    (48,56,20),(49,32,12),(49,48,18),(49,70,26),(50,24,14),(50,44,22),(50,58,30),(50,74,30)]
iw_sft = [(0,3,2),(0,9,3),(0,15,5),(0,80,42),(1,6,2),(1,12,4),(1,26,6),(2,2,2),(2,17,6),(2,47,8),(3,8,3),
    (3,14,5),(4,5,2),(4,20,7),(5,11,4),(5,57,14),(5,27,9),(6,7,3),(6,16,5),(7,12,4),(7,31,10),(8,4,2),
    (8,20,7),(9,9,3),(9,25,8),(10,14,5),(10,36,12),(11,6,2),(11,19,6),(12,11,4),(12,29,10),(13,16,5),
    (13,40,13),(14,8,3),(14,23,8),(14,73,10),(15,13,4),(15,49,6),(16,18,6),(16,33,11),(17,10,3),(17,78,8),
    (17,26,9),(18,15,5),(18,44,14),(19,21,7),(19,31,10),(20,12,4),(20,38,22),(21,25,8),(21,53,12),
    (22,17,6),(22,33,11),(23,8,3),(23,28,9),(24,21,7),(24,46,15),(25,14,5),(25,35,12),(26,26,9),(26,18,6),
    (27,74,40),(27,40,13),(28,22,7),(28,11,4),(29,69,28),(29,32,11),(30,18,6),(30,45,18),(31,27,9),
    (31,52,20),(32,14,5),(32,36,12),(33,24,8),(33,62,16),(34,40,14),(34,19,6),(35,30,10),(35,50,22),
    (36,23,8),(36,57,18),(37,35,12),(37,14,5),(38,44,16),(38,28,10),(39,54,20),(39,20,7),(40,36,13),
    (40,66,16),(41,26,9),(41,46,18),(42,58,22),(42,32,11),(43,40,15),(43,16,6),(44,50,20),(44,70,24),
    (45,30,11),(45,62,22),(46,44,18),(46,22,8),(47,56,24),(47,86,20),(47,36,14),(48,48,20),(48,70,28),
    (48,12,6),(49,30,14),(49,60,26),(49,92,22),(49,42,20),(50,54,46),(50,40,28),(50,76,30),(50,96,24),
    (50,24,14),(40,0,1),(43,0,1),(46,0,1),
    (0,6,2),(0,12,4),(1,3,2),(1,9,3),(1,18,6),(2,7,3),(2,12,4),(3,4,2),(3,19,6),(4,9,3),(4,15,5),(5,6,2),
    (5,16,5),(6,11,4),(6,22,7),(7,7,3),(7,17,6),(8,12,4),(8,26,9),(9,15,5),(9,5,2),(10,9,3),(10,21,7),
    (11,13,4),(11,27,9),(12,7,3),(12,18,6),(13,11,4),(13,24,8),(14,16,5),(14,30,10),(15,9,3),(15,21,7),
    (16,13,4),(16,26,9),(17,16,5),(17,35,12),(18,10,3),(18,22,7),(19,15,5),(19,27,9),(20,18,6),(20,31,10),
    (21,12,4),(21,36,12),(22,22,7),(22,28,10),(23,15,5),(23,38,13),(24,13,4),(24,27,9),(25,20,7),
    (25,42,14),(26,14,5),(26,32,11),(27,23,8),(27,32,11),(28,16,5),(28,38,13),(29,22,7),(29,44,15),
    (30,25,8),(30,34,12),(31,17,6),(31,40,14),(32,22,7),(32,46,16),(33,30,10),(33,18,6),(34,26,9),
    (34,48,17),(35,20,7),(35,38,13),(36,30,10),(36,44,16),(37,22,7),(37,50,18),(38,20,7),(38,36,12),
    (39,28,10),(39,44,16),(40,24,8),(40,48,18),(41,34,12),(41,56,20),(42,22,8),(42,44,16),(43,28,10),
    (43,50,18),(44,24,8),(44,38,14),(45,38,14),(45,48,18),(46,30,11),(46,54,20),(47,26,9),(47,44,18),
    (48,36,14),(48,56,22),(49,20,8),(49,50,22),(50,32,16),(50,46,26),(50,62,34)]

# ---- CNN/Daily Mail ----
cnn_pre = [(0,5,0),(0,10,0),(0,15,0),(0,20,0),(0,91,0),(0,88,0),(1,87,0),(1,12,0),(1,18,0),(1,24,0),
    (2,8,0),(2,14,1),(2,21,1),(3,11,1),(3,17,1),(3,31,1),(4,13,1),(4,22,1),(4,37,1),(5,9,1),(5,16,1),
    (6,19,1),(6,26,1),(7,12,1),(7,22,1),(8,15,2),(8,28,2),(9,10,2),(9,19,2),(9,44,2),(10,24,2),(10,57,2),
    (11,14,2),(11,20,2),(12,11,2),(12,27,2),(13,17,3),(13,23,3),(14,12,3),(14,30,3),(15,19,3),(15,42,3),
    (16,14,3),(16,25,3),(17,21,3),(17,49,3),(18,11,3),(18,29,4),(19,17,4),(19,24,4),(20,13,4),(20,33,4),
    (21,20,4),(21,27,4),(22,15,4),(22,23,4),(23,30,5),(23,11,4),(24,19,5),(24,35,5),(25,14,5),(25,26,5),
    (26,22,5),(26,31,5),(27,16,5),(27,38,5),(28,25,6),(28,12,5),(29,20,6),(29,33,6),(30,15,6),(30,27,6),
    (31,23,6),(31,40,6),(32,18,6),(32,30,7),(33,13,6),(33,25,7),(34,21,7),(34,36,7),(35,17,7),(35,28,7),
    (36,24,7),(36,47,7),(37,14,7),(37,32,8),(38,20,8),(38,46,8),(38,50,8),(39,27,8),(39,16,8),(40,24,8),
    (40,38,9),(41,19,9),(41,68,9),(41,30,9),(42,14,9),(42,26,9),(43,22,10),(43,36,10),(44,17,10),(44,29,10),
    (44,63,10),(45,24,11),(45,42,11),(46,20,11),(46,33,12),(46,63,11),(47,15,12),(47,27,12),(48,23,13),
    (48,38,13),(48,48,13),(49,19,15),(49,30,16),(49,56,15),(49,44,16),(50,24,20),(50,33,22),(50,40,22),
    (50,50,22),(50,58,19),(50,18,19),(50,28,24),
    (1,15,0),(2,18,0),(3,14,1),(4,18,1),(5,20,1),(6,15,1),(7,17,1),(8,20,2),(9,14,2),(10,18,2),(11,24,2),
    (12,16,2),(13,20,3),(14,16,3),(14,22,3),(15,14,3),(16,20,3),(17,16,3),(18,19,3),(18,24,4),(19,13,4),
    (20,20,4),(21,16,4),(22,27,4),(23,19,5),(24,24,5),(25,20,5),(26,17,5),(27,24,5),(28,20,6),(29,27,6),
    (30,21,6),(31,17,6),(32,24,7),(33,19,6),(34,27,7),(35,22,7),(36,19,7),(37,25,8),(38,28,8),(39,21,8),
    (40,18,8),(41,25,9),(42,20,9),(43,28,10),(44,23,10),(45,19,11),(45,30,11),(46,26,11),(47,21,12),
    (47,33,12),(48,18,13),(48,28,13),(49,25,15),(49,36,16),(50,22,20),(50,36,22),(50,45,21)]
cnn_rft = [(0,3,2),(0,10,3),(0,16,4),(0,22,6),(0,89,2),(0,60,18),(0,58,22),(0,47,20),(0,43,23),(1,86,2),
    (1,7,2),(1,13,4),(1,26,7),(2,18,5),(2,43,8),(2,11,3),(3,15,4),(3,37,6),(3,22,6),(4,8,2),(4,28,8),
    (5,17,5),(5,12,3),(6,20,6),(6,30,9),(7,9,3),(7,24,6),(8,14,4),(8,52,3),(8,31,8),(9,19,5),(9,55,5),
    (10,11,3),(10,26,7),(11,16,4),(11,33,9),(12,22,6),(12,13,3),(13,50,4),(13,28,7),(14,18,5),(14,9,2),
    (15,24,6),(15,36,9),(16,14,4),(16,49,4),(17,21,5),(17,30,8),(18,59,6),(18,17,4),(19,26,7),(19,11,3),
    (20,33,8),(20,20,5),(21,15,4),(21,40,10),(22,25,7),(22,12,3),(23,52,2),(23,30,8),(24,19,5),(24,36,9),
    (25,14,4),(25,27,7),(26,22,6),(26,42,10),(27,46,4),(27,17,4),(28,64,2),(28,31,8),(29,24,6),(29,13,3),
    (30,37,9),(30,20,5),(31,28,7),(31,45,11),(32,56,4),(32,16,4),(33,33,8),(33,24,6),(34,40,10),(34,12,3),
    (35,75,24),(35,29,7),(36,20,5),(36,48,12),(37,80,12),(37,35,9),(38,63,10),(38,25,6),(39,42,10),
    (39,16,4),(40,66,6),(40,31,8),(41,50,12),(41,22,6),(42,71,10),(42,38,9),(43,60,5),(43,14,3),(44,28,7),
    (44,46,11),(45,76,6),(45,34,9),(46,70,4),(46,55,16),(46,21,5),(47,85,4),(47,40,10),(48,72,12),
    (48,30,8),(48,58,14),(49,86,3),(49,48,12),(49,18,5),(50,78,2),(50,62,16),(50,38,10),(50,52,18),
    (50,26,8),(50,12,4),
    (0,7,2),(0,13,3),(0,19,5),(1,10,3),(1,20,5),(2,14,4),(2,24,6),(3,9,3),(3,18,5),(4,12,3),(4,20,5),
    (5,8,2),(5,23,6),(6,13,4),(6,16,4),(7,14,4),(7,19,5),(8,10,3),(8,22,6),(9,13,3),(9,26,7),(10,17,4),
    (10,21,6),(11,12,3),(11,22,6),(12,18,5),(12,28,7),(13,12,3),(13,22,6),(14,14,4),(14,27,7),(15,12,3),
    (15,19,5),(16,22,6),(16,30,8),(17,13,3),(17,25,7),(18,22,6),(18,33,9),(19,16,4),(19,21,6),(20,14,4),
    (20,27,7),(21,21,5),(21,30,8),(22,17,4),(22,34,9),(23,14,4),(23,24,6),(24,14,4),(24,28,7),(25,21,5),
    (25,33,9),(26,16,4),(26,30,8),(27,24,6),(27,36,9),(28,15,4),(28,24,6),(29,19,5),(29,34,9),(30,14,4),
    (30,28,7),(31,18,5),(31,36,9),(32,24,6),(32,32,8),(33,16,4),(33,40,10),(34,22,6),(34,30,8),(35,18,5),
    (35,38,10),(36,28,7),(36,36,9),(37,16,4),(37,26,7),(38,20,5),(38,36,9),(39,30,8),(39,50,12),(40,22,6),
    (40,42,10),(41,16,4),(41,36,9),(42,26,7),(42,46,12),(43,22,6),(43,36,9),(44,18,5),(44,36,9),(45,24,6),
    (45,44,11),(46,30,8),(46,40,10),(47,20,5),(47,32,8),(47,52,14),(48,24,6),(48,44,12),(49,28,8),
    (49,38,10),(50,20,6),(50,32,10),(50,46,14)]
cnn_sft = [(0,10,2),(0,16,3),(0,22,5),(0,91,2),(0,89,2),(1,88,2),(1,13,3),(1,27,6),(2,19,4),(2,47,3),
    (3,15,3),(3,24,6),(4,20,5),(4,31,8),(5,17,4),(5,37,8),(6,22,5),(6,13,3),(7,26,6),(7,18,4),(8,48,5),
    (8,21,5),(9,54,8),(9,28,7),(10,16,4),(10,24,6),(11,33,8),(11,20,5),(12,27,7),(12,14,3),(13,23,6),
    (13,36,9),(14,19,5),(14,30,8),(15,51,10),(15,25,6),(16,17,4),(16,34,9),(17,22,6),(17,40,10),
    (18,28,7),(18,16,4),(19,70,14),(19,24,6),(20,32,8),(20,19,5),(21,27,7),(21,38,10),(22,22,6),(22,15,4),
    (23,30,8),(23,42,11),(24,46,12),(24,24,6),(25,19,5),(25,34,9),(26,60,6),(26,27,7),(27,38,10),(27,21,5),
    (28,57,14),(28,31,8),(29,55,8),(29,25,6),(30,35,9),(30,18,5),(31,29,7),(31,44,12),(32,90,2),(32,23,6),
    (33,36,9),(33,28,7),(34,20,5),(34,42,11),(35,90,2),(35,32,8),(36,89,3),(36,78,3),(36,25,6),(37,38,10),
    (37,48,13),(38,85,2),(38,30,8),(39,22,6),(39,40,10),(40,65,12),(40,34,9),(41,27,7),(41,46,12),
    (42,75,6),(42,38,10),(43,24,6),(43,52,14),(44,32,8),(44,42,11),(45,82,4),(45,28,7),(46,79,16),
    (46,48,13),(46,36,9),(47,84,2),(47,70,10),(47,26,7),(48,86,2),(48,40,11),(48,56,16),(49,88,3),
    (49,32,8),(49,46,14),(50,24,10),(50,38,12),(50,52,18),(50,60,14),(50,44,20),
    (0,13,3),(0,19,4),(1,18,4),(1,22,5),(2,14,3),(2,25,6),(3,19,4),(3,29,7),(4,15,3),(4,25,6),(5,21,5),
    (5,13,3),(6,18,4),(6,27,6),(7,14,3),(7,22,5),(8,16,4),(8,27,6),(9,20,5),(9,15,3),(10,20,5),(10,30,7),
    (11,16,4),(11,26,6),(12,21,5),(12,32,8),(13,18,4),(13,28,7),(14,24,6),(14,15,3),(15,20,5),(15,30,7),
    (16,22,5),(16,28,7),(17,18,4),(17,31,8),(18,22,5),(18,35,9),(19,19,5),(19,29,7),(20,24,6),(20,36,9),
    (21,21,5),(21,32,8),(22,26,6),(22,19,4),(23,24,6),(23,35,9),(24,20,5),(24,30,8),(25,24,6),(25,38,10),
    (26,21,5),(26,32,8),(27,25,6),(27,30,7),(28,22,5),(28,36,9),(29,29,7),(29,20,5),(30,24,6),(30,40,10),
    (31,22,5),(31,35,9),(32,28,7),(32,38,10),(33,24,6),(33,42,11),(34,27,7),(34,34,9),(35,25,6),(35,42,11),
    (36,30,8),(36,36,9),(37,27,7),(37,32,8),(38,24,6),(38,42,11),(39,29,7),(39,35,9),(40,26,7),(40,44,12),
    (41,32,8),(41,38,10),(42,28,7),(42,46,13),(43,32,8),(43,40,10),(44,26,7),(44,38,10),(45,34,9),
    (45,44,12),(46,30,8),(46,42,11),(47,32,8),(47,48,14),(48,28,8),(48,46,14),(49,38,11),(49,54,16),
    (50,30,10),(50,36,12),(50,48,16)]

# ---- DailyDialog ----
dd_pre = [(0,1,0),(0,6,0),(0,11,0),(0,16,0),(0,21,0),(0,29,0),(1,4,0),(1,9,0),(1,14,0),(1,19,0),(1,24,1),
    (2,8,1),(2,17,1),(2,26,1),(2,40,1),(3,12,1),(3,22,1),(3,40,1),(3,31,1),(4,9,1),(4,16,1),(4,27,1),
    (5,13,1),(5,20,1),(5,33,1),(6,10,1),(6,24,1),(7,15,2),(7,30,2),(8,12,2),(8,20,2),(9,17,2),(9,27,2),
    (10,10,2),(10,22,2),(10,42,2),(11,14,2),(11,31,2),(12,19,3),(12,25,3),(13,11,3),(13,39,3),(14,16,3),
    (14,28,3),(15,21,3),(15,39,3),(16,12,3),(16,26,4),(17,18,4),(17,32,4),(18,14,4),(18,23,4),(19,20,4),
    (19,9,4),(20,27,4),(20,16,5),(21,22,5),(21,12,5),(22,30,5),(22,41,5),(23,18,5),(23,25,5),(24,13,5),
    (24,21,6),(25,29,6),(25,36,6),(26,16,6),(26,23,6),(27,11,6),(27,31,6),(28,19,6),(28,26,7),(29,14,7),
    (29,22,7),(30,33,7),(30,17,7),(31,24,7),(31,41,7),(32,12,7),(32,28,8),(33,20,8),(33,15,8),(34,30,8),
    (34,25,8),(35,18,8),(35,34,9),(36,22,9),(36,13,9),(37,27,9),(37,19,9),(38,32,9),(38,15,10),(39,24,10),
    (39,35,10),(40,20,10),(40,42,10),(41,28,11),(41,13,11),(42,23,11),(42,33,11),(43,17,11),(43,42,12),
    (44,26,12),(44,30,12),(45,20,12),(45,36,13),(46,14,13),(46,25,13),(47,31,14),(47,18,14),(48,22,15),
    (48,40,15),(48,34,15),(49,16,16),(49,27,17),(49,33,17),(50,15,19),(50,20,21),(50,25,22),(50,30,21),
    (50,36,20),
    (1,29,1),(2,12,1),(2,21,1),(3,17,1),(3,26,1),(4,12,1),(4,21,1),(5,9,1),(5,25,1),(6,15,1),(6,19,1),
    (7,11,2),(7,21,2),(8,16,2),(8,25,2),(9,13,2),(9,22,2),(10,17,2),(11,19,2),(11,24,2),(12,14,3),(13,17,3),
    (13,22,3),(14,20,3),(15,14,3),(15,26,3),(16,18,3),(17,13,4),(17,24,4),(18,19,4),(19,25,4),(20,21,5),
    (21,17,5),(22,14,5),(22,24,5),(23,21,5),(24,17,6),(24,27,6),(25,14,6),(26,19,6),(27,24,6),(28,15,6),
    (29,27,7),(30,21,7),(31,16,7),(32,21,8),(33,26,8),(34,19,8),(35,23,9),(36,27,9),(37,14,9),(38,22,10),
    (39,18,10),(40,27,10),(41,21,11),(42,17,11),(43,29,12),(44,21,12),(45,25,12),(46,19,13),(46,30,13),
    (47,24,14),(48,16,15),(48,28,15),(49,21,16),(50,18,20),(50,33,21)]
dd_rft = [(0,5,2),(0,11,3),(0,17,5),(0,23,6),(0,31,8),(1,3,2),(1,8,2),(1,14,4),(1,20,6),(2,12,3),(2,26,8),
    (2,38,4),(3,9,2),(3,17,5),(3,37,6),(4,13,4),(4,22,7),(5,16,5),(5,40,8),(5,28,8),(6,11,3),(6,20,6),
    (7,15,5),(7,25,7),(8,13,4),(8,36,4),(9,18,6),(9,39,10),(10,9,3),(10,22,7),(10,38,6),(11,16,5),
    (11,28,8),(12,13,4),(12,37,4),(13,20,6),(13,25,8),(14,15,5),(14,11,3),(15,22,7),(15,30,9),(16,17,5),
    (16,12,4),(17,24,7),(17,19,6),(18,14,4),(18,39,6),(19,21,7),(19,28,9),(20,16,5),(20,11,4),(21,25,8),
    (21,19,6),(22,14,5),(22,41,8),(23,22,7),(23,30,10),(24,17,6),(24,13,4),(25,24,8),(25,38,10),(26,19,6),
    (26,28,9),(27,15,5),(27,22,7),(28,26,9),(28,18,6),(29,31,10),(29,14,5),(30,21,7),(30,25,8),(31,17,6),
    (31,29,10),(32,23,8),(32,13,4),(33,27,9),(33,19,6),(34,22,7),(34,42,6),(35,16,5),(35,30,10),(36,24,8),
    (36,20,7),(37,28,9),(37,41,12),(38,18,6),(38,33,12),(39,25,9),(39,21,7),(40,29,10),(40,38,14),
    (41,16,6),(41,23,8),(42,27,10),(42,32,12),(43,20,7),(43,25,9),(44,30,11),(44,18,6),(45,24,9),
    (45,35,13),(46,21,8),(46,28,10),(47,32,12),(47,17,6),(48,26,10),(48,42,10),(49,22,9),(49,36,14),
    (50,18,10),(50,25,12),(50,31,14),(50,37,12),(50,14,8),
    (0,8,2),(0,14,4),(0,20,6),(1,11,3),(1,17,5),(1,25,7),(2,8,2),(2,16,5),(2,21,6),(3,13,4),(3,22,7),
    (4,9,3),(4,17,5),(4,27,8),(5,12,4),(5,21,6),(6,15,5),(6,25,8),(7,11,3),(7,20,6),(8,17,5),(8,24,7),
    (9,13,4),(9,22,7),(10,15,5),(10,26,8),(11,12,4),(11,21,7),(12,17,5),(12,24,8),(13,14,4),(13,29,9),
    (14,19,6),(14,24,8),(15,14,4),(15,18,6),(16,21,7),(16,26,8),(17,14,4),(17,29,9),(18,17,5),(18,23,7),
    (19,15,5),(19,25,8),(20,20,6),(20,28,9),(21,15,5),(21,22,7),(22,18,6),(22,26,8),(23,16,5),(23,26,8),
    (24,21,7),(24,29,9),(25,15,5),(25,20,6),(26,23,7),(26,31,10),(27,18,6),(27,27,9),(28,14,4),(28,22,7),
    (29,20,6),(29,25,8),(30,16,5),(30,29,9),(31,21,7),(31,25,8),(32,18,6),(32,28,9),(33,16,5),(33,23,7),
    (34,26,8),(34,30,10),(35,20,6),(35,24,8),(36,17,5),(36,29,10),(37,22,7),(37,32,11),(38,22,7),(38,27,9),
    (39,18,6),(39,30,10),(40,22,7),(40,25,8),(41,19,6),(41,30,10),(42,20,7),(42,23,8),(43,28,9),(43,33,12),
    (44,22,7),(44,26,9),(45,19,6),(45,29,10),(46,24,8),(46,33,12),(47,21,7),(47,27,9),(48,22,8),(48,30,11),
    (49,18,7),(49,28,10),(50,21,9),(50,28,12),(50,34,14)]
dd_sft = [(0,4,2),(0,9,3),(0,14,5),(0,20,6),(0,27,9),(1,6,3),(1,12,4),(1,17,6),(1,31,10),(2,10,4),(2,22,8),
    (2,56,10),(3,8,3),(3,15,5),(3,47,18),(3,26,10),(4,11,4),(4,19,7),(4,36,14),(5,14,5),(5,52,8),(5,24,10),
    (6,9,3),(6,17,6),(6,30,12),(7,13,5),(7,21,8),(8,10,4),(8,27,10),(9,16,6),(9,34,14),(10,12,5),(10,20,8),
    (10,50,12),(11,25,9),(11,15,6),(12,10,4),(12,31,12),(13,18,7),(13,22,9),(14,13,5),(14,48,6),(14,38,16),
    (15,26,10),(15,17,7),(16,12,5),(16,33,13),(17,20,8),(17,47,10),(18,15,6),(18,28,11),(19,11,4),
    (19,23,9),(20,35,16),(20,49,14),(20,18,7),(21,14,5),(21,29,11),(22,21,8),(22,40,18),(23,16,6),
    (23,26,10),(24,12,5),(24,33,14),(25,20,8),(25,52,16),(26,27,10),(26,15,6),(27,37,17),(27,51,20),
    (27,22,9),(28,13,5),(28,30,12),(29,19,7),(29,55,8),(30,25,10),(30,41,19),(30,51,12),(31,16,6),
    (31,34,14),(32,22,9),(32,58,14),(33,29,12),(33,52,8),(34,14,5),(34,38,18),(35,24,10),(35,50,10),
    (36,19,8),(36,32,13),(37,27,11),(37,16,6),(38,36,17),(38,47,16),(39,22,9),(39,30,12),(40,17,7),
    (40,26,11),(41,40,20),(41,33,14),(42,21,8),(42,29,12),(43,15,6),(43,37,18),(44,25,10),(44,48,10),
    (45,32,14),(45,19,8),(46,42,20),(46,27,11),(47,23,9),(47,45,12),(47,35,17),(48,18,7),(48,30,13),
    (49,39,19),(49,24,10),(50,21,9),(50,28,14),(50,34,19),(50,47,14),(50,14,6),
    (0,7,2),(0,12,4),(0,17,5),(0,24,8),(1,9,3),(1,14,4),(1,22,7),(2,7,3),(2,14,5),(2,18,6),(3,11,4),
    (3,20,7),(4,7,3),(4,14,5),(4,24,9),(5,10,4),(5,18,6),(5,30,12),(6,13,5),(6,22,8),(7,10,4),(7,17,6),
    (7,26,10),(8,14,5),(8,20,8),(9,12,4),(9,20,8),(9,26,10),(10,15,6),(10,24,9),(11,11,4),(11,19,7),
    (11,30,12),(12,14,5),(12,22,8),(13,13,5),(13,27,10),(14,17,6),(14,22,8),(15,12,5),(15,21,8),(15,32,13),
    (16,16,6),(16,24,9),(17,13,5),(17,28,11),(18,19,7),(18,22,8),(19,15,6),(19,30,12),(20,14,5),(20,25,10),
    (21,19,7),(21,24,9),(22,13,5),(22,27,10),(23,20,8),(23,33,14),(24,16,6),(24,23,9),(25,15,6),(25,29,11),
    (26,20,8),(26,36,16),(27,16,6),(27,28,11),(28,18,7),(28,24,9),(29,15,6),(29,32,13),(30,18,7),(30,30,12),
    (31,22,9),(31,28,11),(32,16,6),(32,34,15),(33,20,8),(33,25,10),(34,18,7),(34,30,12),(35,17,7),
    (35,36,16),(36,24,10),(36,28,11),(37,20,8),(37,34,15),(38,17,7),(38,27,11),(39,18,7),(39,34,15),
    (40,21,8),(40,32,14),(41,16,6),(41,27,11),(42,25,10),(42,36,16),(43,20,8),(43,28,12),(44,18,7),
    (44,33,14),(45,24,10),(45,40,18),(46,20,8),(46,34,15),(47,18,7),(47,28,12),(48,24,10),(48,38,18),
    (49,19,8),(49,31,14),(50,17,8),(50,25,12),(50,40,18)]

datasets = ["NarrativeQA", "ToTTo", "IMDB", "CommonGen", "IWSLT 2017", "CNN/Daily Mail", "DailyDialog"]
models = ["Pretrained Model", "RFT (NLPO) Model", "SFT Model"]
std_max = [0.368, 0.326, 0.49, 0.167, 0.49, 0.25, 0.219]
std_ticks = [
    [0, 0.1, 0.2, 0.3],
    [0, 0.05, 0.1, 0.15, 0.2, 0.25, 0.3],
    [0, 0.1, 0.2, 0.3, 0.4],
    [0, 0.025, 0.05, 0.075, 0.1, 0.125, 0.15],
    [0, 0.1, 0.2, 0.3, 0.4],
    [0, 0.05, 0.1, 0.15, 0.2],
    [0, 0.05, 0.1, 0.15, 0.2],
]
std_ticktext = [
    ["0.00", "0.10", "0.20", "0.30"],
    ["0.00", "0.05", "0.10", "0.15", "0.20", "0.25", "0.30"],
    ["0.00", "0.10", "0.20", "0.30", "0.40"],
    ["0.00", "0.03", "0.05", "0.08", "0.10", "0.12", "0.15"],
    ["0.00", "0.10", "0.20", "0.30", "0.40"],
    ["0.00", "0.05", "0.10", "0.15", "0.20"],
    ["0.00", "0.05", "0.10", "0.15", "0.20"],
]
panels = [
    [nqa_pre, nqa_rft, nqa_sft],
    [tot_pre, tot_rft, tot_sft],
    [imdb_pre, imdb_rft, imdb_sft],
    [cg_pre, cg_rft, cg_sft],
    [iw_pre, iw_rft, iw_sft],
    [cnn_pre, cnn_rft, cnn_sft],
    [dd_pre, dd_rft, dd_sft],
]

# the page body keeps its default 8px margin, so the figure is 16px smaller than the window
OFF = 8
W, H = 2000 - 2 * OFF, 2961 - 2 * OFF
col_px = [(159, 659), (754, 1255), (1350, 1851)]
row_px = [(88, 374), (505, 792), (923, 1209), (1341, 1627), (1758, 2044), (2176, 2462), (2594, 2882)]
FONT = "DejaVu Sans Condensed, DejaVu Sans, sans-serif"
PLAIN = "DejaVu Sans, sans-serif"


def px_x(px):
    return (px - OFF) / W


def px_y(py):
    return 1 - (py - OFF) / H


fig = make_subplots(rows=7, cols=3)

for r in range(7):
    ca = "coloraxis" if r == 0 else f"coloraxis{r + 1}"
    for c in range(3):
        pts = panels[r][c]
        fig.add_trace(
            go.Scatter(
                x=[p[0] * 100 for p in pts],
                y=[p[1] / 100 for p in pts],
                mode="markers",
                marker=dict(size=13, color=[p[2] / 100 for p in pts], coloraxis=ca, line_width=0),
                showlegend=False,
                hoverinfo="skip",
            ),
            row=r + 1,
            col=c + 1,
        )
        x0, x1 = col_px[c]
        y0, y1 = row_px[r]
        fig.update_xaxes(
            domain=[px_x(x0), px_x(x1)], range=[-250, 5250], tickvals=[0, 1000, 2000, 3000, 4000, 5000],
            showline=True, mirror=True, linecolor="black", linewidth=2, ticks="outside", ticklen=7,
            tickwidth=1.5, tickcolor="black", showgrid=False, zeroline=False, automargin=False,
            tickfont=dict(family=FONT, size=21, color="#222"),
            title=dict(text="Sample Order (by pretrain reward std)", standoff=3,
                       font=dict(family=FONT, size=27, color="#111")),
            row=r + 1, col=c + 1,
        )
        fig.update_yaxes(
            domain=[px_y(y1), px_y(y0)], range=[0, 1], dtick=0.2, tickformat=".1f",
            showline=True, mirror=True, linecolor="black", linewidth=2, ticks="outside", ticklen=7,
            tickwidth=1.5, tickcolor="black", showgrid=False, zeroline=False, automargin=False,
            tickfont=dict(family=FONT, size=21, color="#222"),
            title=dict(text="Reward Mean" if c == 0 else "", standoff=10,
                       font=dict(family=PLAIN, size=25, color="#111")),
            row=r + 1, col=c + 1,
        )

    y0, y1 = row_px[r]
    yc = (px_y(y0) + px_y(y1)) / 2
    fig.layout[ca] = dict(
        colorscale="Viridis", cmin=0, cmax=std_max[r],
        colorbar=dict(
            x=px_x(1883), xanchor="left", y=yc, yanchor="middle",
            len=(y1 - y0) / H, lenmode="fraction", thickness=14, outlinewidth=1, outlinecolor="#333",
            tickvals=std_ticks[r], ticktext=std_ticktext[r], ticks="outside", ticklen=5,
            tickcolor="black", tickfont=dict(family=PLAIN, size=19, color="#222"),
        ),
    )
    fig.add_annotation(
        text="Reward STD", x=px_x(1973), y=yc, xref="paper", yref="paper",
        textangle=-90, showarrow=False, xanchor="center", yanchor="middle",
        font=dict(family=PLAIN, size=25, color="#111"),
    )
    fig.add_annotation(
        text="Dataset:  " + datasets[r], x=px_x(22), y=yc, xref="paper", yref="paper",
        textangle=-90, showarrow=False, xanchor="center", yanchor="middle",
        font=dict(family=PLAIN, size=26, color="black", weight="bold"),
    )

for c in range(3):
    x0, x1 = col_px[c]
    fig.add_annotation(
        text=models[c], x=(px_x(x0) + px_x(x1)) / 2, y=px_y(33), xref="paper", yref="paper",
        showarrow=False, xanchor="center", yanchor="middle",
        font=dict(family="Lato, Open Sans, sans-serif", size=36, color="black", weight="bold"),
    )

fig.update_layout(
    width=W, height=H, margin=dict(l=0, r=0, t=0, b=0, autoexpand=False),
    paper_bgcolor="white", plot_bgcolor="white",
)

fig.write_html("out.html")
